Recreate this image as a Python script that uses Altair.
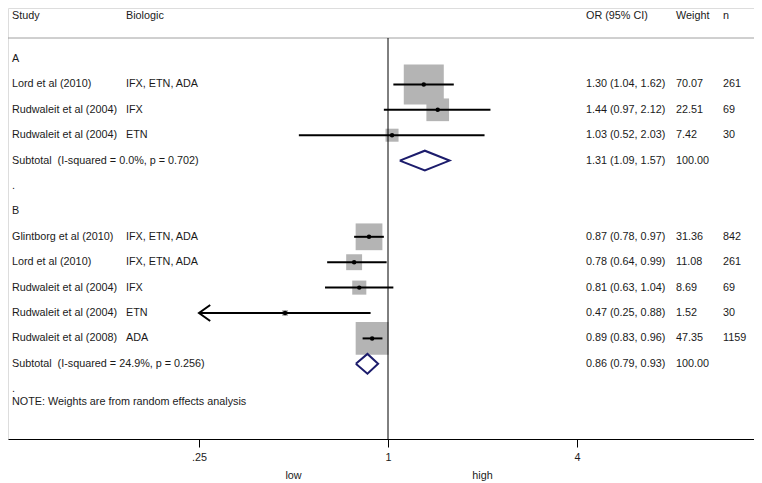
import altair as alt
import pandas as pd

# ---------------- data ----------------
group_names = ["A", "B"]
study_group = ["A", "A", "A", "B", "B", "B", "B", "B"]
study_names = ["Lord et al (2010)", "Rudwaleit et al (2004)", "Rudwaleit et al (2004)",
               "Glintborg et al (2010)", "Lord et al (2010)", "Rudwaleit et al (2004)",
               "Rudwaleit et al (2004)", "Rudwaleit et al (2008)"]
biologics = ["IFX, ETN, ADA", "IFX", "ETN", "IFX, ETN, ADA", "IFX, ETN, ADA", "IFX", "ETN", "ADA"]
or_est = [1.30, 1.44, 1.03, 0.87, 0.78, 0.81, 0.47, 0.89]
ci_lo = [1.04, 0.97, 0.52, 0.78, 0.64, 0.63, 0.25, 0.83]
ci_hi = [1.62, 2.12, 2.03, 0.97, 0.99, 1.04, 0.88, 0.96]
weights = [70.07, 22.51, 7.42, 31.36, 11.08, 8.69, 1.52, 47.35]
n_obs = [261, 69, 30, 842, 261, 69, 30, 1159]

sub_labels = ["Subtotal\u00a0 (I-squared = 0.0%, p = 0.702)",
              "Subtotal\u00a0 (I-squared = 24.9%, p = 0.256)"]
sub_est = [1.31, 0.86]
sub_lo = [1.09, 0.79]
sub_hi = [1.57, 0.93]
sub_weight = [100.00, 100.00]

headers = ["Study", "Biologic", "OR (95% CI)", "Weight", "n"]
tick_values = [0.25, 1, 4]
favour_labels = ["low", "high"]
favour_at = [0.5, 2]
note_text = "NOTE: Weights are from random effects analysis"

# ---------------- layout ----------------
W, H = 746, 431
FONT = "Liberation Sans"
FS = 10.8
TXT = "#1a1a1a"
col_px = [4, 118, 578, 668, 715]

# rows: group header, studies, subtotal, blank "."
study_row = {}
group_row, sub_row, blank_row = [], [], []
r = 1
for g in group_names:
    group_row.append(r); r += 1
    for i, sg in enumerate(study_group):
        if sg == g:
            study_row[i] = r; r += 1
    sub_row.append(r); r += 1
    blank_row.append(r); r += 1
note_row = blank_row[-1] + 0.5

fmt_ci = lambda e, l, h: f"{e:.2f} ({l:.2f}, {h:.2f})"

text_records = []
for k, g in enumerate(group_names):
    text_records.append(dict(row=group_row[k], study=g, bio="", ortext="", wtext="", ntext=""))
    text_records.append(dict(row=sub_row[k], study=sub_labels[k], bio="",
                             ortext=fmt_ci(sub_est[k], sub_lo[k], sub_hi[k]),
                             wtext=f"{sub_weight[k]:.2f}", ntext=""))
    text_records.append(dict(row=blank_row[k], study=".", bio="", ortext="", wtext="", ntext=""))
text_records.append(dict(row=note_row, study=note_text, bio="", ortext="", wtext="", ntext=""))

study_records = []
for i in range(len(study_names)):
    study_records.append(dict(row=study_row[i], est=or_est[i], lo=ci_lo[i], hi=ci_hi[i],
                              weight=weights[i]))
    text_records.append(dict(row=study_row[i], study=study_names[i], bio=biologics[i],
                             ortext=fmt_ci(or_est[i], ci_lo[i], ci_hi[i]),
                             wtext=f"{weights[i]:.2f}", ntext=str(n_obs[i])))
text_df = pd.DataFrame(text_records)
study_df = pd.DataFrame(study_records)
arrow_df = study_df[study_df["lo"] <= tick_values[0]]

# diamonds
DH = 0.39
dia = []
for k in range(len(sub_est)):
    pts = [(sub_lo[k], 0), (sub_est[k], -DH), (sub_hi[k], 0), (sub_est[k], DH), (sub_lo[k], 0)]
    for j, (xv, dy) in enumerate(pts):
        dia.append(dict(sub=k, k=j, x=xv, row=sub_row[k] + dy))
dia_df = pd.DataFrame(dia)

fav_df = pd.DataFrame(dict(x=favour_at, label=favour_labels))
hdr_df = pd.DataFrame(dict(label=headers))
null_df = pd.DataFrame(dict(v=[1]))
one_df = pd.DataFrame(dict(z=[0]))

# ---------------- scales ----------------
xscale = alt.Scale(type="log", base=2, domain=[0.06159, 14.65], nice=False)
yscale = alt.Scale(domain=[-1.008, 15.96], reverse=True, nice=False, zero=False)
xaxis = alt.Axis(values=tick_values, title=None, grid=False, tickSize=8, tickColor="black",
                 domainColor="black", domainWidth=1, tickWidth=1, labelFont=FONT,
                 labelFontSize=FS, labelColor=TXT, labelPadding=4,
                 labelExpr="datum.value < 1 ? '.' + split(toString(datum.value), '.')[1] : toString(datum.value)")
Y = lambda f="row": alt.Y(f"{f}:Q", scale=yscale, axis=None)
X = lambda f: alt.X(f"{f}:Q", scale=xscale, axis=xaxis)

boxes = alt.Chart(study_df).mark_square(color="#b4b4b4", opacity=1).encode(
    x=X("est"), y=Y(),
    size=alt.Size("weight:Q", scale=alt.Scale(domain=[0, 100], range=[0, 2285]), legend=None))

null_line = alt.Chart(null_df).mark_rule(color="black", strokeWidth=1).encode(
    x=X("v"), y=alt.value(30), y2=alt.value(H))

sep = alt.Chart(one_df).mark_rule(color="#a0a0a0", strokeWidth=1).encode(
    x=alt.value(0), x2=alt.value(W), y=alt.value(30))

ci = alt.Chart(study_df).mark_rule(color="black", strokeWidth=2).encode(
    x=X("lo"), x2="hi:Q", y=Y())

arrows = alt.Chart(arrow_df).mark_point(shape="M1.4,-1L0,0L1.4,1", filled=False, color="black",
                                         strokeWidth=2, size=256, opacity=1).encode(
    x=X("lo"), y=Y())

dots = alt.Chart(study_df).mark_circle(color="black", size=20, opacity=1).encode(
    x=X("est"), y=Y())

diamonds = alt.Chart(dia_df).mark_line(color="#1c1c6c", strokeWidth=2, strokeJoin="miter").encode(
    x=X("x"), y=Y(), detail="sub:N", order="k:Q")

def col_text(field, px):
    return alt.Chart(text_df).mark_text(align="left", baseline="middle", font=FONT,
                                        fontSize=FS, color=TXT).encode(
        x=alt.value(px), y=Y(), text=f"{field}:N")

texts = [col_text(f, p) for f, p in zip(["study", "bio", "ortext", "wtext", "ntext"], col_px)]

hdr_layers = [alt.Chart(hdr_df).transform_filter(alt.datum.label == h).mark_text(
    align="left", baseline="middle", font=FONT, fontSize=FS, color=TXT).encode(
    x=alt.value(p), y=alt.value(8), text="label:N") for h, p in zip(headers, col_px)]

fav = alt.Chart(fav_df).mark_text(align="center", baseline="middle", font=FONT,
                                  fontSize=FS, color=TXT).encode(
    x=X("x"), y=alt.value(H + 37), text="label:N")

chart = alt.layer(
    sep, boxes, null_line, ci, arrows, dots, diamonds, *texts, *hdr_layers, fav
).properties(
    width=W, height=H,
    autosize=alt.AutoSizeParams(type="none"),
    padding={"left": 0, "top": 0, "right": 0, "bottom": 44},
).configure_view(strokeWidth=0).configure(background="white")

chart.save("out.html", embed_options={"renderer": "svg", "actions": False})
